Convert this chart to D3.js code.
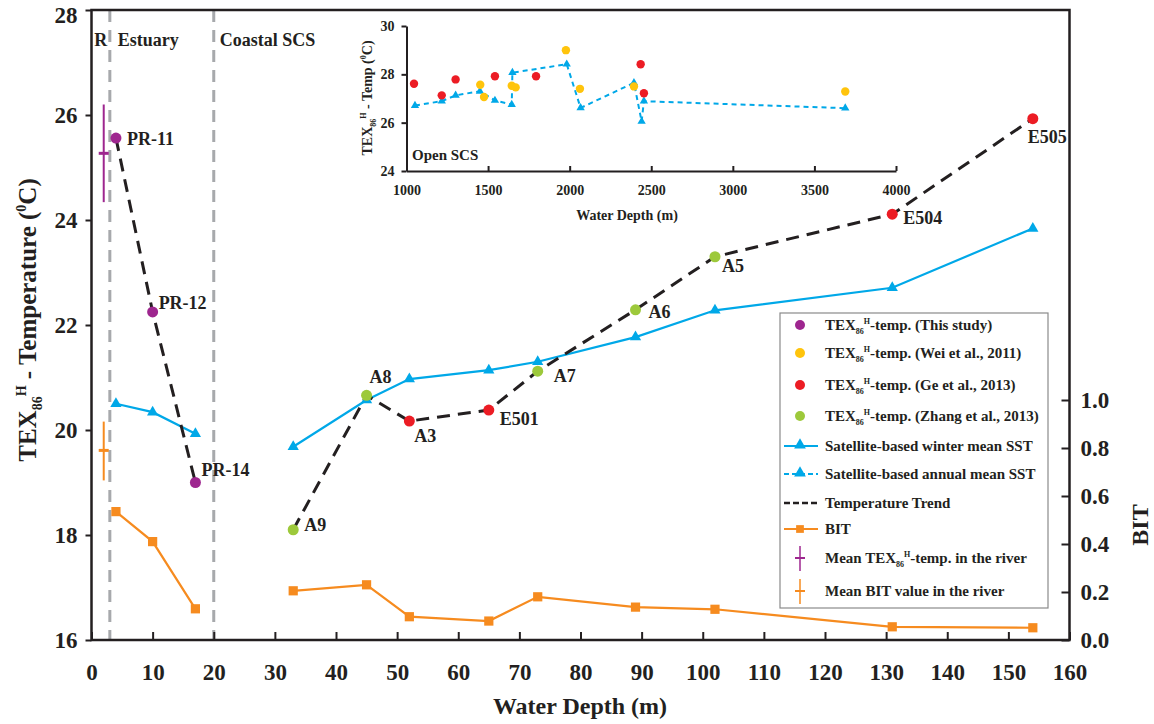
<!DOCTYPE html>
<html>
<head>
<meta charset="utf-8">
<script src="https://cdn.jsdelivr.net/npm/d3@7"></script>
<style>
  body { margin: 0; background: #fff; }
  text { font-family: "Liberation Serif", "Times New Roman", serif; font-weight: bold; fill: #231f20; }
  .main .tick text { font-size: 23px; }
  .inset .tick text { font-size: 14px; }
</style>
</head>
<body>
<script>
// main chart data (water depth in m)
const studyNames = ["PR-11", "PR-12", "PR-14"]
const studyDepth = [4, 10, 17]
const studyTemp = [25.56, 22.25, 19.0]

const zhangNames = ["A9", "A8", "A7", "A6", "A5"]
const zhangDepth = [33, 45, 73, 89, 102]
const zhangTemp = [18.1, 20.66, 21.12, 22.29, 23.3]

const geNames = ["A3", "E501", "E504", "E505"]
const geDepth = [52, 65, 131, 154]
const geTemp = [20.17, 20.38, 24.11, 25.93]

// null = gap between estuary and shelf
const trendDepth = [4, 10, 17, null, 33, 45, 52, 65, 73, 89, 102, 131, 154]
const trendTemp = [25.56, 22.25, 19.0, null, 18.1, 20.66, 20.17, 20.38, 21.12, 22.29, 23.3, 24.11, 25.93]

const sstDepth = [4, 10, 17, null, 33, 45, 52, 65, 73, 89, 102, 131, 154]
const winterSST = [20.5, 20.34, 19.93, null, 19.68, 20.57, 20.97, 21.14, 21.3, 21.77, 22.28, 22.71, 23.84]
const bitValue = [0.535, 0.41, 0.13, null, 0.205, 0.23, 0.097, 0.079, 0.18, 0.137, 0.128, 0.055, 0.051]

// river means (depth plotted at 2 m)
const riverDepth = 2
const riverTemp = [24.34, 25.27, 26.2]
const riverBit = [0.665, 0.79, 0.91]

const zoneDepth = [3, 20]

const xTicks = d3.range(0, 161, 10)
const tempTicks = [16, 18, 20, 22, 24, 26, 28]
const bitTicks = [0, 0.2, 0.4, 0.6, 0.8, 1.0]

// inset (open SCS)
const insetGeDepth = [1046, 1216, 1301, 1542, 1794, 2435, 2455]
const insetGeTemp = [27.61, 27.13, 27.79, 27.92, 27.92, 28.42, 27.22]
const insetWeiDepth = [1452, 1475, 1645, 1669, 1977, 2063, 2394, 3689]
const insetWeiTemp = [27.57, 27.06, 27.53, 27.46, 29.0, 27.4, 27.5, 27.29]
const annualDepth = [1052, 1216, 1301, 1450, 1542, 1645, 1649, 1982, 2067, 2394, 2441, 2455, 3689]
const annualSST = [26.71, 26.89, 27.13, 27.3, 26.92, 26.75, 28.07, 28.42, 26.61, 27.65, 26.05, 26.89, 26.6]
const insetXTicks = [1000, 1500, 2000, 2500, 3000, 3500, 4000]
const insetYTicks = [24, 26, 28, 30]

let purple = "#9e268f"
let yellow = "#ffc40c"
let red = "#ec1c24"
let green = "#9dc93b"
let blue = "#00a8e8"
let orange = "#f68b1f"
let ink = "#231f20"

let width = 1154
let height = 724
let plot = { left: 91.5, right: 1069.5, top: 10, bottom: 640 }

// label offsets from their dot (px)
let labelOffset = {
  "PR-11": [11, 7], "PR-12": [6, -3], "PR-14": [6, -7],
  "A9": [11, 1], "A8": [3, -12], "A3": [5, 21], "E501": [11, 15],
  "A7": [16, 11], "A6": [13, 8], "A5": [7, 15], "E504": [11, 10], "E505": [-5, 24]
}

const svg = d3.select("body")
  .append("svg")
  .attr("width", width)
  .attr("height", height)

var x = d3.scaleLinear().domain([0, 160]).range([plot.left, plot.right])
var y = d3.scaleLinear().domain([16, 28]).range([plot.bottom, plot.top])
var yBit = d3.scaleLinear().domain([0, 1]).range([plot.bottom, 400])

const main = svg.append("g").attr("class", "main")

// TEX86H helper: writes before + TEX86H + after into a text node
function texLabel(sel, size, before, after, degree) {
  let small = Math.round(size * 0.55)
  if (before) sel.append("tspan").text(before)
  sel.append("tspan").text("TEX")
  sel.append("tspan").attr("dy", size * 0.25).style("font-size", small + "px").text("86")
  sel.append("tspan").attr("dy", -size * 0.65).style("font-size", small + "px").text("H")
  if (degree) {
    sel.append("tspan").attr("dy", size * 0.4).text(after)
    sel.append("tspan").attr("dy", -size * 0.4).style("font-size", small + "px").text("0")
    sel.append("tspan").attr("dy", size * 0.4).text("C)")
  } else {
    sel.append("tspan").attr("dy", size * 0.4).text(after)
  }
}

// zone boundaries
main.selectAll(".zone")
  .data(zoneDepth)
  .join("line")
  .attr("x1", d => x(d)).attr("x2", d => x(d))
  .attr("y1", plot.top).attr("y2", plot.bottom)
  .attr("stroke", "#a7a9ac")
  .attr("stroke-width", 3)
  .attr("stroke-dasharray", "12,8")

main.append("text").attr("x", (x(0) + x(3)) / 2).attr("y", 46).attr("text-anchor", "middle").style("font-size", "18px").text("R")
main.append("text").attr("x", x(3) + 8).attr("y", 46).style("font-size", "18px").text("Estuary")
main.append("text").attr("x", x(20) + 6).attr("y", 46).style("font-size", "18px").text("Coastal SCS")

// Add X axis
main.append("g")
  .attr("transform", `translate(0,${plot.bottom})`)
  .call(d3.axisBottom(x).tickValues(xTicks).tickSizeInner(-8).tickSizeOuter(0).tickPadding(24))
  .call(g => g.select(".domain").remove())

// Add Y axis (left)
main.append("g")
  .attr("transform", `translate(${plot.left},0)`)
  .call(d3.axisLeft(y).tickValues(tempTicks).tickSizeInner(6).tickSizeOuter(0).tickPadding(8))
  .call(g => g.select(".domain").remove())
  .call(g => g.selectAll(".tick text").filter(d => d == 28).attr("dy", "0.55em"))

// Add BIT axis (right)
main.append("g")
  .attr("transform", `translate(${plot.right},0)`)
  .call(d3.axisRight(yBit).tickValues(bitTicks).tickFormat(d3.format(".1f")).tickSizeInner(-8).tickSizeOuter(0).tickPadding(11))
  .call(g => g.select(".domain").remove())

main.selectAll(".tick line").attr("stroke", ink).attr("stroke-width", 2)

main.append("rect")
  .attr("x", plot.left).attr("y", plot.top)
  .attr("width", plot.right - plot.left).attr("height", plot.bottom - plot.top)
  .attr("fill", "none").attr("stroke", ink).attr("stroke-width", 2.5)

// axis titles
main.append("text")
  .attr("x", 580).attr("y", 714)
  .attr("text-anchor", "middle")
  .style("font-size", "24px")
  .text("Water Depth (m)")

main.append("text")
  .attr("transform", "translate(1148,525) rotate(-90)")
  .attr("text-anchor", "middle")
  .style("font-size", "24px")
  .text("BIT")

texLabel(main.append("text")
  .attr("transform", "translate(36,320) rotate(-90)")
  .attr("text-anchor", "middle")
  .style("font-size", "25px"), 25, "", " - Temperature (", true)

// lines
const pairs = (a, b) => d3.zip(a, b)
const tempLine = d3.line().defined(d => d[1] != null).x(d => x(d[0])).y(d => y(d[1]))
const bitLine = d3.line().defined(d => d[1] != null).x(d => x(d[0])).y(d => yBit(d[1]))

main.append("path")
  .attr("d", bitLine(pairs(sstDepth, bitValue)))
  .attr("fill", "none").attr("stroke", orange).attr("stroke-width", 2.2)

main.append("path")
  .attr("d", tempLine(pairs(sstDepth, winterSST)))
  .attr("fill", "none").attr("stroke", blue).attr("stroke-width", 2.2)

main.append("path")
  .attr("d", tempLine(pairs(trendDepth, trendTemp)))
  .attr("fill", "none").attr("stroke", ink).attr("stroke-width", 3)
  .attr("stroke-dasharray", "13,8")

// markers
main.append("g").selectAll("path")
  .data(pairs(sstDepth, bitValue).filter(d => d[1] != null))
  .join("path")
  .attr("d", d3.symbol(d3.symbolSquare, 85))
  .attr("transform", d => `translate(${x(d[0])},${yBit(d[1])})`)
  .attr("fill", orange)

main.append("g").selectAll("path")
  .data(pairs(sstDepth, winterSST).filter(d => d[1] != null))
  .join("path")
  .attr("d", d3.symbol(d3.symbolTriangle, 55))
  .attr("transform", d => `translate(${x(d[0])},${y(d[1])})`)
  .attr("fill", blue)

// river error bars
function riverBar(g, vals, scale, color) {
  g.append("line").attr("x1", x(riverDepth)).attr("x2", x(riverDepth))
    .attr("y1", scale(vals[0])).attr("y2", scale(vals[2]))
    .attr("stroke", color).attr("stroke-width", 2)
  g.append("line").attr("x1", x(riverDepth) - 5).attr("x2", x(riverDepth) + 5)
    .attr("y1", scale(vals[1])).attr("y2", scale(vals[1]))
    .attr("stroke", color).attr("stroke-width", 3)
}
riverBar(main, riverTemp, y, purple)
riverBar(main, riverBit, yBit, orange)

// sample dots + names
let groups = [
  [studyNames, studyDepth, studyTemp, purple],
  [zhangNames, zhangDepth, zhangTemp, green],
  [geNames, geDepth, geTemp, red]
]
groups.forEach(function (grp) {
  let rows = grp[0].map((n, i) => ({ name: n, depth: grp[1][i], temp: grp[2][i] }))
  main.append("g").selectAll("circle")
    .data(rows)
    .join("circle")
    .attr("cx", d => x(d.depth))
    .attr("cy", d => y(d.temp))
    .attr("r", 5.5)
    .attr("fill", grp[3])
  main.append("g").selectAll("text")
    .data(rows)
    .join("text")
    .attr("x", d => x(d.depth) + labelOffset[d.name][0])
    .attr("y", d => y(d.temp) + labelOffset[d.name][1])
    .style("font-size", "18px")
    .text(d => d.name)
})

// legend
let lg = svg.append("g").attr("transform", "translate(780,313)")
lg.append("rect").attr("width", 268).attr("height", 295)
  .attr("fill", "#fff").attr("stroke", "#8a8a8a").attr("stroke-width", 1.2)

let legendRows = [
  { kind: "dot", color: purple, before: "", after: "-temp. (This study)" },
  { kind: "dot", color: yellow, before: "", after: "-temp. (Wei et al., 2011)" },
  { kind: "dot", color: red, before: "", after: "-temp. (Ge et al., 2013)" },
  { kind: "dot", color: green, before: "", after: "-temp. (Zhang et al., 2013)" },
  { kind: "solid", color: blue, text: "Satellite-based winter mean SST" },
  { kind: "dashed", color: blue, text: "Satellite-based annual mean SST" },
  { kind: "trend", color: ink, text: "Temperature Trend" },
  { kind: "bit", color: orange, text: "BIT" },
  { kind: "bar", color: purple, before: "Mean ", after: "-temp. in the river" },
  { kind: "bar", color: orange, text: "Mean BIT value in the river" }
]
let rowY = [12, 40, 72, 103, 133, 161, 190, 216, 245, 278]

legendRows.forEach(function (r, i) {
  let cy = rowY[i]
  let row = lg.append("g").attr("transform", `translate(0,${cy})`)
  if (r.kind == "dot") {
    row.append("circle").attr("cx", 20).attr("r", 5).attr("fill", r.color)
  }
  if (r.kind == "solid" || r.kind == "dashed" || r.kind == "trend" || r.kind == "bit") {
    row.append("line").attr("x1", 4).attr("x2", 38)
      .attr("stroke", r.color)
      .attr("stroke-width", r.kind == "trend" ? 2.5 : 2)
      .attr("stroke-dasharray", r.kind == "dashed" ? "5,3" : r.kind == "trend" ? "6,3" : null)
  }
  if (r.kind == "solid" || r.kind == "dashed") {
    row.append("path").attr("d", d3.symbol(d3.symbolTriangle, 60)).attr("transform", "translate(20,-1)").attr("fill", r.color)
  }
  if (r.kind == "bit") {
    row.append("path").attr("d", d3.symbol(d3.symbolSquare, 60)).attr("transform", "translate(20,0)").attr("fill", r.color)
  }
  if (r.kind == "bar") {
    row.append("line").attr("x1", 20).attr("x2", 20).attr("y1", -12).attr("y2", 13).attr("stroke", r.color).attr("stroke-width", 1.5)
    row.append("line").attr("x1", 15).attr("x2", 25).attr("stroke", r.color).attr("stroke-width", 2)
  }
  let t = row.append("text").attr("x", 45).attr("y", 5).style("font-size", "15px")
  if (r.text) t.text(r.text)
  else texLabel(t, 15, r.before, r.after, false)
})

// inset chart
var ix = d3.scaleLinear().domain([1000, 4000]).range([406.5, 896])
var iy = d3.scaleLinear().domain([24, 30]).range([171, 26])
const inset = svg.append("g").attr("class", "inset")

inset.append("g")
  .attr("transform", "translate(0,171)")
  .call(d3.axisBottom(ix).tickValues(insetXTicks).tickFormat(d3.format("d")).tickSizeInner(-5).tickSizeOuter(0).tickPadding(14))
inset.append("g")
  .attr("transform", "translate(406.5,0)")
  .call(d3.axisLeft(iy).tickValues(insetYTicks).tickFormat(d3.format("d")).tickSizeInner(5).tickSizeOuter(0).tickPadding(7))
inset.selectAll(".domain, .tick line").attr("stroke", ink).attr("stroke-width", 2)

inset.append("text").attr("x", 627).attr("y", 220).attr("text-anchor", "middle").style("font-size", "14px").text("Water Depth (m)")
texLabel(inset.append("text")
  .attr("transform", "translate(372,98) rotate(-90)")
  .attr("text-anchor", "middle")
  .style("font-size", "14px"), 14, "", " - Temp (", true)
inset.append("text").attr("x", 412).attr("y", 160).style("font-size", "15px").text("Open SCS")

inset.append("path")
  .attr("d", d3.line().x(d => ix(d[0])).y(d => iy(d[1]))(pairs(annualDepth, annualSST)))
  .attr("fill", "none").attr("stroke", blue).attr("stroke-width", 2)
  .attr("stroke-dasharray", "5,4")

inset.append("g").selectAll("path")
  .data(pairs(annualDepth, annualSST))
  .join("path")
  .attr("d", d3.symbol(d3.symbolTriangle, 30))
  .attr("transform", d => `translate(${ix(d[0])},${iy(d[1])})`)
  .attr("fill", blue)

inset.append("g").selectAll("circle")
  .data(pairs(insetWeiDepth, insetWeiTemp))
  .join("circle")
  .attr("cx", d => ix(d[0])).attr("cy", d => iy(d[1])).attr("r", 4.2)
  .attr("fill", yellow)

inset.append("g").selectAll("circle")
  .data(pairs(insetGeDepth, insetGeTemp))
  .join("circle")
  .attr("cx", d => ix(d[0])).attr("cy", d => iy(d[1])).attr("r", 4.2)
  .attr("fill", red)
</script>
</body>
</html>
